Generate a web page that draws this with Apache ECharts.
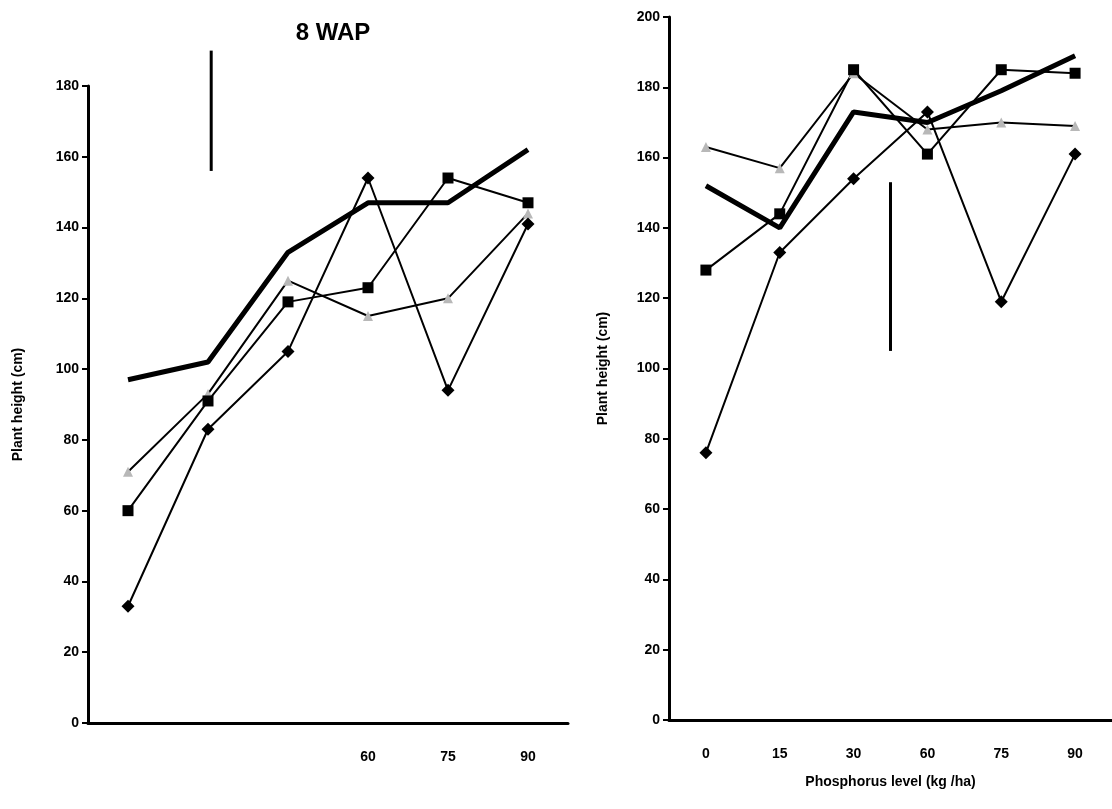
<!DOCTYPE html>
<html>
<head>
<meta charset="utf-8">
<script src="https://cdn.jsdelivr.net/npm/echarts/dist/echarts.min.js"></script>
<style>
html, body { margin: 0; background: #fff; }
#chart { width: 1112px; height: 809px; }
</style>
</head>
<body>
<div id="chart"></div>
<script>
// phosphorus levels (kg/ha)
var levels = ['0', '15', '30', '60', '75', '90'];

// 8 WAP panel
var leftDiamond = [33, 83, 105, 154, 94, 141];
var leftSquare = [60, 91, 119, 123, 154, 147];
var leftGray = [71, 93, 125, 115, 120, 144];
var leftThick = [97, 102, 133, 147, 147, 162];

// second panel
var rightDiamond = [76, 133, 154, 173, 119, 161];
var rightSquare = [128, 144, 185, 161, 185, 184];
var rightGray = [163, 157, 184, 168, 170, 169];
var rightThick = [152, 140, 173, 170, 179, 189];

// vertical bars drawn on the panels (x as category position, y in cm)
var leftBar = [[1.04, 190], [1.04, 156]];
var rightBar = [[2.5, 153], [2.5, 105]];

var font = 'Liberation Sans';
var myChart = echarts.init(document.getElementById('chart'));

function catAxis(grid, showFrom) {
	return {
		type: 'category',
		gridIndex: grid,
		data: levels,
		axisLine: { onZero: false, lineStyle: { color: '#000', width: 3 } },
		axisTick: { length: 6, lineStyle: { color: '#000', width: 2 } },
		axisLabel: {
			color: '#000',
			fontFamily: font,
			fontWeight: 'bold',
			fontSize: 14,
			margin: 27,
			formatter: function(v, i) {
				return i >= showFrom ? v : '';
			}
		}
	};
}

function valAxis(grid, max, gap) {
	return {
		type: 'value',
		gridIndex: grid,
		min: 0,
		max: max,
		interval: 20,
		name: 'Plant height (cm)',
		nameLocation: 'middle',
		nameGap: gap,
		nameTextStyle: { color: '#000', fontFamily: font, fontWeight: 'bold', fontSize: 14 },
		splitLine: { show: false },
		axisLine: { show: true, onZero: false, lineStyle: { color: '#000', width: 3 } },
		axisTick: { show: true, length: 6, lineStyle: { color: '#000', width: 2 } },
		axisLabel: { color: '#000', fontFamily: font, fontWeight: 'bold', fontSize: 14, margin: 9 }
	};
}

function line(x, y, data, symbol, size, width, symColor) {
	return {
		type: 'line',
		xAxisIndex: x,
		yAxisIndex: y,
		data: data,
		symbol: symbol,
		symbolSize: size,
		showSymbol: symbol !== 'none',
		lineStyle: { color: '#000', width: width },
		itemStyle: { color: symColor || '#000' },
		animation: false
	};
}

function bar(x, y, data) {
	return {
		type: 'line',
		xAxisIndex: x,
		yAxisIndex: y,
		data: data,
		symbol: 'none',
		clip: false,
		lineStyle: { color: '#000', width: 3 },
		animation: false
	};
}

var option = {
	backgroundColor: '#fff',
	title: {
		text: '8 WAP',
		left: 328,
		top: 16,
		textAlign: 'center',
		textStyle: { color: '#000', fontFamily: font, fontWeight: 'bold', fontSize: 24 }
	},
	grid: [
		{ left: 88, top: 86, width: 480, height: 637 },
		{ left: 669, top: 17, width: 450, height: 703 }
	],
	xAxis: [
		catAxis(0, 3),
		Object.assign(catAxis(1, 0), {
			name: 'Phosphorus level (kg /ha)',
			nameLocation: 'middle',
			nameGap: 55,
			nameTextStyle: { color: '#000', fontFamily: font, fontWeight: 'bold', fontSize: 14 }
		}),
		{ type: 'value', gridIndex: 0, min: -0.5, max: 5.5, show: false },
		{ type: 'value', gridIndex: 1, min: -0.5, max: 5.5, show: false }
	],
	yAxis: [
		valAxis(0, 180, 63),
		valAxis(1, 200, 59)
	],
	series: [
		line(0, 0, leftGray, 'triangle', 10, 2, '#b8b8b8'),
		line(0, 0, leftSquare, 'rect', 11, 2),
		line(0, 0, leftDiamond, 'diamond', 13, 2),
		line(0, 0, leftThick, 'none', 0, 5),
		bar(2, 0, leftBar),
		line(1, 1, rightGray, 'triangle', 10, 2, '#b8b8b8'),
		line(1, 1, rightSquare, 'rect', 11, 2),
		line(1, 1, rightDiamond, 'diamond', 13, 2),
		line(1, 1, rightThick, 'none', 0, 5),
		bar(3, 1, rightBar)
	]
};

myChart.setOption(option);
</script>
</body>
</html>
